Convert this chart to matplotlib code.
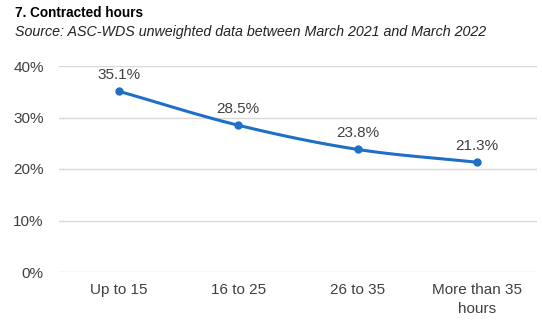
import matplotlib
matplotlib.use("Agg")
import matplotlib.pyplot as plt
import numpy as np

categories = ["Up to 15", "16 to 25", "26 to 35", "More than 35\nhours"]
values = [35.1, 28.5, 23.8, 21.3]
yticks = [0, 10, 20, 30, 40]

plt.rcParams['font.family'] = ['Liberation Sans', 'DejaVu Sans']

fig = plt.figure(figsize=(5.42, 3.27), dpi=100)
ax = fig.add_axes([59/542, 55/327, (537-59)/542, (272-66)/327])

x = np.arange(len(values), dtype=float)
y = np.array(values, dtype=float)

# smooth rendering (Hermite) between data points
def smooth(xp, yp, n=30):
    xs, ys = [], []
    d = np.diff(yp)
    m = np.zeros_like(yp)
    m[1:-1] = (d[:-1] + d[1:]) / 2
    m[0] = d[0]
    m[-1] = d[-1]
    for i in range(len(xp) - 1):
        s = np.linspace(0, 1, n)
        h00 = 2*s**3 - 3*s**2 + 1
        h10 = s**3 - 2*s**2 + s
        h01 = -2*s**3 + 3*s**2
        h11 = s**3 - s**2
        xs.append(xp[i] + s*(xp[i+1]-xp[i]))
        ys.append(h00*yp[i] + h10*m[i] + h01*yp[i+1] + h11*m[i+1])
    return np.concatenate(xs), np.concatenate(ys)

sx, sy = smooth(x, y)
color = '#1f6fc6'
ax.plot(sx, sy, color=color, lw=2.2, solid_capstyle='round', zorder=3)
ax.plot(x, y, 'o', color=color, ms=5, zorder=4)

for xi, yi in zip(x, y):
    ax.annotate(f"{yi:.1f}%", (xi, yi), xytext=(0, 6.5), textcoords='offset points',
                ha='center', va='bottom', fontsize=11, color='#404040')

ax.set_xlim(-0.5, 3.5)
ax.set_ylim(0, 40)
ax.set_yticks(yticks)
ax.set_yticklabels([f"{v}%" for v in yticks])
ax.set_xticks(x)
ax.set_xticklabels(categories, linespacing=1.45)
ax.tick_params(axis='both', length=0, labelsize=11, labelcolor='#404040')
ax.tick_params(axis='x', pad=8)
ax.tick_params(axis='y', pad=11)
for s in ax.spines.values():
    s.set_visible(False)
ax.grid(axis='y', color='#d9d9d9', lw=1)
ax.set_axisbelow(True)

fig.text(15/542, 1 - 13/327, "7. Contracted hours", fontsize=9.8, fontweight='bold',
         va='center', ha='left', color='black')
fig.text(15/542, 1 - 32/327, "Source: ASC-WDS unweighted data between March 2021 and March 2022",
         fontsize=10.3, style='italic', va='center', ha='left', color='#222222')

fig.savefig("out.png", dpi=100)
